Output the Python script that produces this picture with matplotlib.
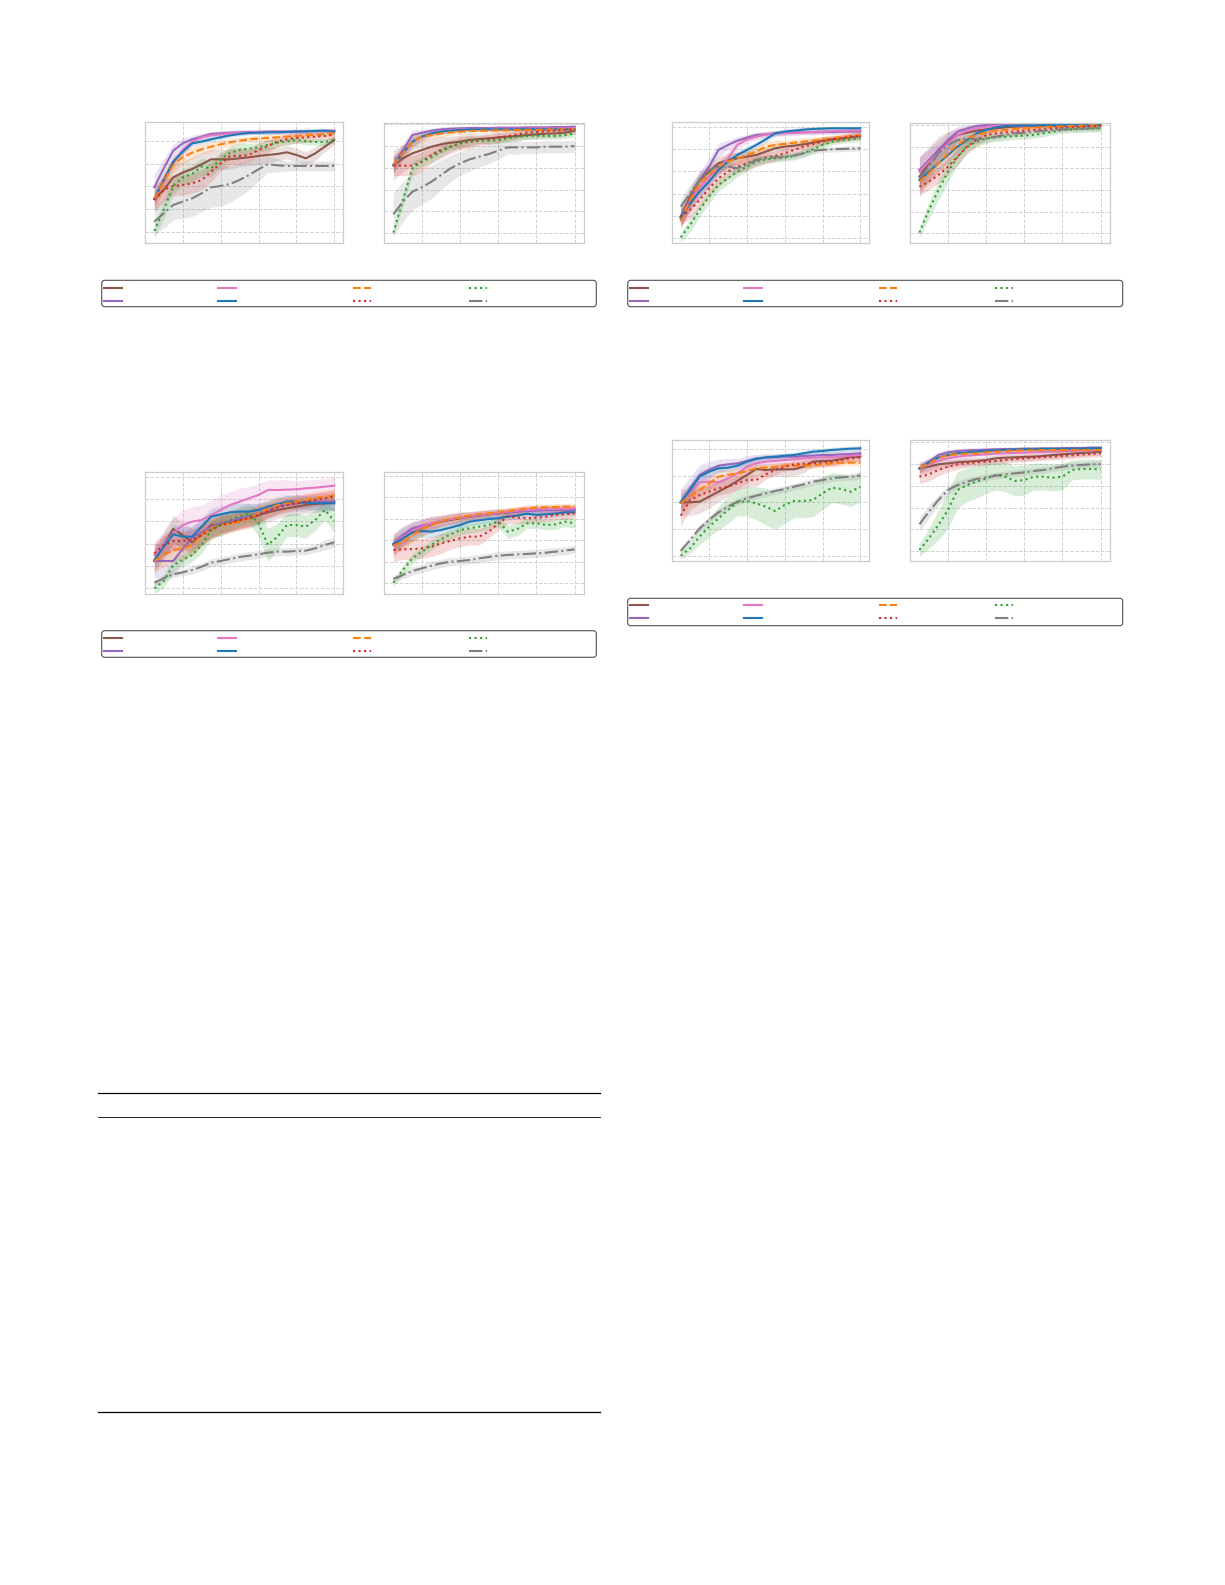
import matplotlib
matplotlib.use("Agg")
import matplotlib.pyplot as plt
from matplotlib.lines import Line2D
from matplotlib.patches import FancyBboxPatch

# ---------------- data ----------------
X = [5, 10, 15, 20, 25, 30, 35, 40, 45, 50, 55, 60, 65, 70, 75, 80, 85, 90, 95, 100]
XTICKS = [20, 40, 60, 80, 100]

COLORS = ["#8c564b", "#9467bd", "#e377c2", "#1f77b4", "#ff7f0e", "#d62728", "#2ca02c", "#7f7f7f"]
STYLES = ["-", "-", "-", "-", "--", ":", ":", "-."]

# ---- panel A, left ----
A1_BROWN = [13.3,16.0,19.8,21.2,22.3,23.7,25.2,25.2,25.2,25.5,25.8,26.2,26.5,26.8,27.3,26.5,25.5,27.0,29.0,31.0]
A1_PURPLE = [16.8,22.5,27.8,30.0,31.2,32.0,32.8,33.0,33.2,33.3,33.4,33.4,33.5,33.5,33.5,33.6,33.6,33.7,33.7,33.7]
A1_PINK = [13.3,18.5,24.0,28.0,30.5,31.8,32.4,32.7,33.0,33.2,33.3,33.4,33.4,33.5,33.5,33.5,33.6,33.6,33.7,33.8]
A1_BLUE = [13.3,19.0,24.5,27.5,30.0,30.5,31.2,31.8,32.4,32.8,33.1,33.2,33.3,33.3,33.4,33.5,33.6,33.7,33.8,33.5]
A1_ORANGE = [13.3,18.5,23.5,25.8,27.2,28.2,29.0,29.7,30.3,30.8,31.2,31.4,31.6,31.8,32.0,32.2,32.4,32.6,32.8,33.0]
A1_RED = [13.0,16.0,17.2,17.5,18.0,19.0,21.5,24.0,26.2,26.2,26.5,28.0,29.2,30.5,31.2,31.6,31.8,32.0,32.2,32.6]
A1_GREEN = [3.7,10.0,17.2,19.8,20.8,23.0,22.5,25.2,27.2,28.0,28.4,28.8,29.5,30.2,30.6,31.0,30.6,30.4,30.4,31.0]
A1_GRAY = [6.5,9.0,11.5,12.5,13.5,15.0,16.8,17.2,17.8,19.0,20.5,22.2,23.7,23.4,23.2,23.2,23.2,23.2,23.2,23.2]
A1_BROWN_SD = [4.0,4.0,4.0,3.5,3.5,3.5,3.0,3.0,3.0,2.5,2.5,2.5,2.5,2.0,2.0,2.0,2.0,2.0,1.5,1.5]
A1_PURPLE_SD = [4.0,3.0,2.0,1.5,1.2,1.0,0.8,0.8,0.7,0.7,0.6,0.6,0.6,0.6,0.6,0.6,0.6,0.6,0.6,0.6]
A1_PINK_SD = [3.0,2.5,2.0,1.5,1.2,1.0,0.8,0.8,0.8,0.7,0.7,0.7,0.7,0.7,0.7,0.7,0.7,0.7,0.7,0.7]
A1_BLUE_SD = [2.0,1.5,1.2,1.0,0.8,0.8,0.7,0.7,0.6,0.6,0.6,0.6,0.6,0.6,0.6,0.6,0.6,0.6,0.6,0.6]
A1_ORANGE_SD = [3.0,3.0,2.5,2.0,1.8,1.5,1.5,1.2,1.2,1.0,1.0,1.0,1.0,1.0,0.8,0.8,0.8,0.8,0.8,0.8]
A1_RED_SD = [3.0,3.0,3.0,3.0,3.0,3.0,3.0,2.5,2.5,2.5,2.0,2.0,2.0,1.5,1.5,1.5,1.5,1.2,1.2,1.2]
A1_GREEN_SD = [2.0,2.5,2.5,2.5,2.5,2.5,2.5,2.0,2.0,2.0,1.5,1.5,1.5,1.2,1.2,1.0,1.0,1.0,1.0,1.0]
A1_GRAY_SD = [4.0,4.5,4.5,5.0,5.5,5.5,6.0,6.0,5.5,5.0,4.5,3.5,2.5,2.0,1.5,1.5,1.5,1.5,1.5,1.5]
A1_YTICKS = [3.5, 10.3, 17.1, 23.9, 30.7]

# ---- panel A, right ----
A2_BROWN = [23.5,25.5,27.0,28.0,29.0,29.7,30.2,30.5,31.0,31.3,31.5,31.8,32.0,32.2,32.5,32.7,32.9,33.0,33.2,33.8]
A2_PURPLE = [23.5,28.0,32.5,33.2,33.8,34.2,34.4,34.5,34.6,34.6,34.6,34.7,34.7,34.7,34.8,34.8,34.8,34.9,34.9,35.0]
A2_PINK = [23.5,27.0,30.5,32.0,33.0,33.5,34.0,34.2,34.3,34.3,34.4,34.4,34.4,34.4,34.4,34.5,34.5,34.5,34.5,34.5]
A2_BLUE = [23.5,27.0,30.5,32.0,33.0,33.5,33.8,34.0,34.2,34.2,34.2,34.2,34.2,34.2,34.2,34.2,34.2,34.2,34.2,34.2]
A2_ORANGE = [23.5,27.0,30.5,32.0,32.5,33.0,33.3,33.5,33.7,33.8,33.8,33.9,33.9,34.0,34.0,34.0,34.1,34.1,34.2,34.2]
A2_RED = [23.3,23.3,23.3,24.5,26.5,28.0,29.0,30.0,30.5,30.8,31.2,31.7,32.2,32.7,33.2,33.4,33.6,33.8,34.0,34.2]
A2_GREEN = [3.2,13.0,22.5,24.5,25.8,27.5,29.0,30.0,30.8,31.0,30.8,31.0,31.5,32.0,32.2,32.3,32.2,32.2,32.5,33.0]
A2_GRAY = [8.7,12.5,15.5,16.8,18.5,20.5,22.5,24.0,25.2,26.0,26.8,27.8,28.8,28.8,28.8,28.8,29.0,29.0,29.0,29.2]
A2_BROWN_SD = [4.5,4.0,3.5,3.0,2.5,2.5,2.0,2.0,2.0,1.5,1.5,1.5,1.5,1.5,1.2,1.2,1.2,1.2,1.0,1.0]
A2_PURPLE_SD = [2.5,2.0,1.5,1.0,0.8,0.7,0.6,0.6,0.6,0.6,0.5,0.5,0.5,0.5,0.5,0.5,0.5,0.5,0.5,0.5]
A2_PINK_SD = [2.5,2.0,1.5,1.2,1.0,0.8,0.7,0.6,0.6,0.6,0.6,0.6,0.5,0.5,0.5,0.5,0.5,0.5,0.5,0.5]
A2_BLUE_SD = [2.0,1.8,1.5,1.0,0.8,0.7,0.6,0.6,0.6,0.6,0.5,0.5,0.5,0.5,0.5,0.5,0.5,0.5,0.5,0.5]
A2_ORANGE_SD = [2.5,2.0,1.8,1.5,1.2,1.0,0.8,0.8,0.7,0.7,0.7,0.7,0.6,0.6,0.6,0.6,0.6,0.6,0.6,0.6]
A2_RED_SD = [3.0,3.0,3.0,3.0,2.5,2.5,2.0,2.0,2.0,1.5,1.5,1.5,1.2,1.2,1.0,1.0,1.0,1.0,1.0,1.0]
A2_GREEN_SD = [1.0,2.0,2.0,1.5,1.5,1.5,1.5,1.2,1.2,1.0,1.0,1.0,1.0,1.0,1.0,1.0,1.0,1.0,1.0,1.0]
A2_GRAY_SD = [6.5,6.0,5.5,5.0,5.0,4.5,4.0,3.5,3.5,3.0,3.0,2.5,2.0,2.0,1.8,1.8,1.8,1.8,1.8,1.8]
A2_YTICKS = [3.0, 9.55, 16.1, 22.65, 29.2, 35.75]

# ---- panel B, left ----
B1_BROWN = [8.0,14.0,19.0,21.5,24.0,25.0,25.5,26.0,26.5,27.5,28.5,29.0,29.3,29.7,30.2,30.8,31.2,31.5,31.8,32.2]
B1_PURPLE = [8.0,13.0,19.0,23.0,28.0,29.5,30.8,31.7,32.5,32.7,33.0,33.1,33.2,33.3,33.3,33.4,33.4,33.5,33.5,33.5]
B1_PINK = [7.5,12.5,16.5,20.0,22.5,25.5,29.5,31.2,32.0,32.6,33.0,33.1,33.2,33.3,33.4,33.5,33.6,33.7,33.8,33.8]
B1_BLUE = [7.5,12.0,15.5,18.5,22.0,24.5,26.5,28.0,29.5,31.2,33.0,33.5,33.8,34.1,34.3,34.4,34.5,34.5,34.5,34.5]
B1_ORANGE = [6.5,13.0,18.0,20.5,23.0,24.5,25.5,26.5,27.5,29.0,29.5,29.8,30.2,30.5,30.8,31.2,31.5,31.8,32.2,32.5]
B1_RED = [8.0,10.0,13.0,16.5,19.5,21.5,23.0,24.0,25.0,25.7,26.2,27.0,28.0,29.0,29.8,30.5,31.2,31.5,32.0,32.2]
B1_GREEN = [1.8,5.5,10.0,14.0,17.5,19.5,21.5,23.0,24.5,25.2,25.5,25.8,26.2,27.0,28.2,29.5,30.5,31.0,31.2,31.5]
B1_GRAY = [11.0,15.0,19.0,22.0,23.0,23.0,22.5,23.5,25.0,25.5,25.8,26.0,26.3,27.0,27.8,28.0,28.2,28.3,28.4,28.5]
B1_BROWN_SD = [3.0,3.0,2.5,2.5,2.0,2.0,1.8,1.8,1.5,1.5,1.5,1.5,1.2,1.2,1.2,1.2,1.0,1.0,1.0,1.0]
B1_PURPLE_SD = [3.0,3.0,2.5,2.5,2.0,1.5,1.2,1.0,1.0,0.8,0.8,0.8,0.7,0.7,0.7,0.7,0.7,0.7,0.7,0.7]
B1_PINK_SD = [3.0,3.0,2.5,2.5,2.0,2.0,1.5,1.2,1.0,1.0,0.8,0.8,0.8,0.7,0.7,0.7,0.7,0.7,0.7,0.7]
B1_BLUE_SD = [2.0,2.0,2.0,1.8,1.5,1.5,1.2,1.2,1.0,1.0,0.8,0.8,0.7,0.7,0.6,0.6,0.6,0.6,0.6,0.6]
B1_ORANGE_SD = [2.5,2.5,2.5,2.0,2.0,2.0,1.8,1.8,1.5,1.5,1.5,1.2,1.2,1.2,1.0,1.0,1.0,1.0,1.0,1.0]
B1_RED_SD = [2.5,2.5,2.5,2.5,2.5,2.0,2.0,2.0,1.8,1.8,1.5,1.5,1.5,1.2,1.2,1.2,1.0,1.0,1.0,1.0]
B1_GREEN_SD = [1.5,2.0,2.0,2.0,2.0,1.8,1.5,1.5,1.5,1.2,1.2,1.2,1.2,1.2,1.2,1.0,1.0,1.0,1.0,1.0]
B1_GRAY_SD = [2.5,2.5,2.0,1.5,1.5,1.5,1.2,1.2,1.2,1.0,1.0,1.0,1.0,1.0,1.0,0.8,0.8,0.8,0.8,0.8]
B1_YTICKS = [1.7, 8.3, 14.9, 21.6, 28.2, 34.8]

# ---- panel B, right ----
B2_BROWN = [20.0,24.0,28.0,30.5,32.5,33.2,33.8,34.2,34.5,34.8,35.0,35.1,35.2,35.2,35.3,35.3,35.4,35.4,35.5,35.5]
B2_PURPLE = [22.0,25.0,28.0,31.0,33.5,34.5,35.2,35.5,35.6,35.6,35.7,35.7,35.7,35.7,35.7,35.7,35.7,35.7,35.7,35.7]
B2_PINK = [21.5,24.5,27.0,30.0,32.5,33.8,34.5,35.0,35.2,35.3,35.4,35.4,35.5,35.5,35.5,35.5,35.6,35.6,35.6,35.6]
B2_BLUE = [19.0,21.5,24.0,26.5,29.0,31.0,33.0,34.0,34.8,35.2,35.3,35.4,35.4,35.5,35.5,35.5,35.5,35.6,35.6,35.6]
B2_ORANGE = [18.5,21.0,24.0,27.0,29.5,31.5,32.5,33.3,33.8,34.0,34.3,34.5,34.7,34.9,35.0,35.1,35.2,35.3,35.4,35.5]
B2_RED = [17.0,18.5,20.5,23.0,26.0,29.0,31.0,32.5,33.0,33.3,33.5,33.8,34.0,34.2,34.5,34.7,34.8,35.0,35.1,35.2]
B2_GREEN = [3.2,10.0,16.0,21.5,26.0,29.0,30.5,31.5,31.8,32.0,32.2,32.3,32.5,33.0,33.5,34.0,34.2,34.3,34.4,34.5]
B2_GRAY = [19.5,23.0,27.0,29.5,31.0,31.5,31.2,31.5,32.0,32.5,33.0,33.2,33.5,33.8,34.0,34.2,34.3,34.4,34.5,34.5]
B2_BROWN_SD = [6.0,5.0,4.0,3.0,2.0,1.5,1.2,1.0,0.8,0.8,0.7,0.7,0.7,0.7,0.7,0.7,0.7,0.7,0.7,0.7]
B2_PURPLE_SD = [4.0,3.5,3.0,2.5,1.5,1.0,0.8,0.7,0.6,0.6,0.6,0.6,0.6,0.6,0.6,0.6,0.6,0.6,0.6,0.6]
B2_PINK_SD = [4.0,3.5,3.0,2.5,2.0,1.5,1.0,0.8,0.7,0.7,0.6,0.6,0.6,0.6,0.6,0.6,0.6,0.6,0.6,0.6]
B2_BLUE_SD = [3.0,3.0,2.5,2.5,2.0,1.5,1.2,1.0,0.8,0.7,0.6,0.6,0.6,0.6,0.6,0.6,0.6,0.6,0.6,0.6]
B2_ORANGE_SD = [3.0,3.0,2.5,2.5,2.0,1.5,1.2,1.0,0.8,0.7,0.7,0.7,0.6,0.6,0.6,0.6,0.6,0.6,0.6,0.6]
B2_RED_SD = [2.5,2.5,2.5,2.5,2.5,2.0,1.8,1.5,1.2,1.0,1.0,1.0,0.8,0.8,0.8,0.8,0.8,0.8,0.8,0.8]
B2_GREEN_SD = [1.5,2.5,3.0,3.0,2.5,2.0,1.5,1.5,1.2,1.2,1.0,1.0,1.0,1.0,1.0,1.0,1.0,1.0,1.0,1.0]
B2_GRAY_SD = [2.0,2.0,1.8,1.5,1.5,1.5,1.2,1.2,1.0,1.0,1.0,1.0,0.8,0.8,0.8,0.8,0.8,0.8,0.8,0.8]
B2_YTICKS = [3.0, 9.5, 16.0, 22.5, 29.0, 35.5]

# ---- panel C, left ----
C1_BROWN = [9.9,14.7,19.5,17.7,15.5,17.7,20.7,20.9,21.7,22.2,22.7,23.7,24.5,25.2,25.7,26.2,26.7,27.0,27.2,27.7]
C1_PURPLE = [9.9,9.9,9.9,13.5,16.9,18.5,20.2,21.2,21.9,22.7,23.4,24.2,25.2,26.2,26.9,27.2,27.5,27.7,27.7,27.7]
C1_PINK = [11.7,14.7,18.2,20.7,21.7,22.2,23.7,25.2,26.7,27.7,28.7,29.7,31.2,31.2,31.3,31.4,31.7,31.9,32.2,32.5]
C1_BLUE = [10.2,14.2,17.9,17.2,17.2,20.2,23.2,23.9,24.5,24.7,24.7,25.2,26.2,26.9,27.7,27.7,27.4,27.2,27.2,27.2]
C1_ORANGE = [9.9,11.7,13.2,13.7,14.7,17.7,19.7,20.7,21.2,21.7,22.7,24.2,25.5,26.7,27.2,27.7,28.2,28.7,29.2,29.5]
C1_RED = [12.2,14.7,15.9,15.9,16.2,17.7,19.2,20.7,21.2,22.2,22.7,23.7,24.9,25.9,26.7,27.2,27.7,28.2,28.7,29.2]
C1_GREEN = [1.7,3.9,8.7,10.2,11.7,14.7,19.2,20.7,22.2,23.2,24.2,21.2,14.7,17.2,20.7,20.7,20.2,22.2,25.2,21.9]
C1_GRAY = [3.4,4.7,5.9,6.5,7.2,8.2,9.4,9.9,10.5,11.1,11.5,11.9,12.4,12.7,12.7,12.9,13.0,13.7,14.7,15.5]
C1_BROWN_SD = [4.0,4.0,4.0,4.0,4.0,3.5,3.5,3.5,3.0,3.0,3.0,3.0,3.0,2.5,2.5,2.5,2.5,2.5,2.5,2.5]
C1_PURPLE_SD = [5.0,5.0,4.5,4.0,4.0,3.5,3.5,3.0,3.0,3.0,3.0,3.0,2.5,2.5,2.5,2.5,2.5,2.5,2.5,2.5]
C1_PINK_SD = [4.0,4.0,4.5,4.5,4.5,4.5,4.5,4.5,4.0,4.0,3.5,3.5,3.0,3.0,3.0,2.5,2.5,2.5,2.5,2.5]
C1_BLUE_SD = [3.0,3.0,3.0,3.0,3.0,2.5,2.5,2.5,2.5,2.5,2.5,2.0,2.0,2.0,2.0,2.0,2.0,2.0,2.0,2.0]
C1_ORANGE_SD = [3.5,3.5,3.5,3.5,3.0,3.0,3.0,3.0,3.0,2.5,2.5,2.5,2.5,2.5,2.0,2.0,2.0,2.0,2.0,2.0]
C1_RED_SD = [3.0,3.0,3.0,3.0,3.0,3.0,2.5,2.5,2.5,2.5,2.5,2.5,2.0,2.0,2.0,2.0,2.0,2.0,2.0,2.0]
C1_GREEN_SD = [1.5,2.0,2.0,2.0,2.0,2.5,3.0,3.0,3.0,3.0,3.0,4.0,5.0,4.0,3.5,3.5,3.5,3.0,3.0,3.5]
C1_GRAY_SD = [1.0,1.0,1.0,1.0,1.2,1.2,1.2,1.2,1.2,1.2,1.2,1.2,1.2,1.2,1.2,1.2,1.2,1.2,1.5,1.5]
C1_YTICKS = [1.7, 8.4, 15.1, 21.8, 28.5, 35.2]

# ---- panel C, right ----
C2_BROWN = [14.7,17.2,18.7,19.9,20.9,21.7,22.2,22.7,23.2,23.5,23.9,24.2,24.5,24.9,25.2,25.4,25.5,25.5,25.5,25.5]
C2_PURPLE = [15.2,17.7,19.7,20.5,21.2,21.9,22.4,22.9,23.2,23.5,23.9,24.2,24.5,24.7,24.9,25.0,25.1,25.2,25.2,25.2]
C2_PINK = [14.9,17.2,18.9,20.2,21.2,21.9,22.5,22.9,23.4,23.7,24.0,24.4,24.7,25.0,25.2,25.4,25.5,25.5,25.5,25.7]
C2_BLUE = [14.9,16.7,18.5,18.9,18.7,19.2,19.9,20.7,21.7,22.1,22.5,22.7,23.2,23.5,24.1,23.7,23.9,24.1,24.5,24.5]
C2_ORANGE = [14.5,15.7,17.7,19.5,20.7,21.9,22.5,23.0,23.5,23.9,24.2,24.5,24.9,25.3,25.7,25.9,26.0,26.1,26.2,26.2]
C2_RED = [13.2,13.4,13.5,13.7,14.2,15.2,15.9,16.7,17.2,17.2,18.7,21.2,23.2,22.9,22.7,22.9,23.2,23.7,23.9,24.2]
C2_GREEN = [3.4,7.2,10.7,12.7,14.7,16.5,17.9,19.2,19.7,20.2,20.7,21.7,18.7,19.5,21.2,21.2,20.7,20.9,21.7,21.2]
C2_GRAY = [4.5,5.7,6.9,7.7,8.5,9.2,9.7,9.9,10.2,10.7,11.1,11.5,11.7,11.9,12.0,12.2,12.4,12.7,13.0,13.4]
C2_BROWN_SD = [3.5,3.0,3.0,2.5,2.5,2.0,2.0,2.0,1.5,1.5,1.5,1.5,1.2,1.2,1.2,1.2,1.2,1.2,1.2,1.2]
C2_PURPLE_SD = [2.5,2.5,2.0,2.0,1.8,1.5,1.5,1.5,1.2,1.2,1.2,1.0,1.0,1.0,1.0,1.0,1.0,1.0,1.0,1.0]
C2_PINK_SD = [3.0,2.5,2.5,2.0,2.0,1.5,1.5,1.5,1.2,1.2,1.2,1.0,1.0,1.0,1.0,1.0,1.0,1.0,1.0,1.0]
C2_BLUE_SD = [2.0,2.0,2.0,1.8,1.8,1.5,1.5,1.5,1.2,1.2,1.2,1.0,1.0,1.0,1.0,1.0,1.0,1.0,1.0,1.0]
C2_ORANGE_SD = [2.5,2.5,2.0,2.0,1.8,1.5,1.5,1.5,1.2,1.2,1.0,1.0,1.0,1.0,1.0,1.0,1.0,1.0,1.0,1.0]
C2_RED_SD = [3.5,3.0,3.0,3.0,3.0,3.0,2.5,2.5,2.5,2.5,2.0,2.0,2.0,1.8,1.5,1.5,1.5,1.5,1.5,1.5]
C2_GREEN_SD = [1.0,1.5,1.5,1.5,1.5,1.5,1.5,1.5,1.5,1.5,1.5,1.5,2.0,2.0,1.5,1.5,1.5,1.5,1.5,1.5]
C2_GRAY_SD = [1.0,1.0,1.2,1.2,1.2,1.2,1.2,1.2,1.2,1.2,1.2,1.2,1.2,1.2,1.2,1.2,1.2,1.2,1.2,1.2]
C2_YTICKS = [3.2, 9.7, 16.1, 22.6, 29.0, 35.5]

# ---- panel D, left ----
D1_BROWN = [17.6,17.6,17.8,19.3,20.8,22.3,24.0,25.8,27.6,27.3,27.5,27.5,27.5,28.3,29.8,30.0,30.1,30.6,31.2,31.3]
D1_PURPLE = [17.6,21.8,25.8,27.3,28.6,29.0,29.3,30.0,30.8,31.0,31.1,31.3,31.3,31.5,31.6,31.8,31.8,32.0,32.1,32.3]
D1_PINK = [17.6,20.8,23.6,23.8,23.6,24.8,26.3,28.3,29.3,29.8,30.0,30.3,30.5,30.8,31.0,31.1,31.2,31.4,31.6,31.8]
D1_BLUE = [17.6,21.3,25.3,26.8,27.8,28.0,28.6,29.8,30.6,31.1,31.3,31.6,31.8,32.3,32.8,33.0,33.3,33.5,33.7,33.8]
D1_ORANGE = [17.3,19.3,21.3,23.3,25.3,25.8,26.3,27.0,27.8,28.0,28.3,28.6,28.6,28.6,28.8,29.0,29.3,29.5,29.5,29.5]
D1_RED = [13.6,18.3,19.8,20.8,21.8,22.3,23.3,24.3,24.3,26.0,27.3,28.3,29.0,29.2,29.3,29.6,29.8,30.3,30.8,31.0]
D1_GREEN = [1.6,3.8,7.3,10.3,12.8,15.3,17.6,18.0,17.3,16.3,15.0,16.8,18.0,18.0,18.3,20.3,22.0,21.6,20.8,22.3]
D1_GRAY = [3.0,6.3,9.8,12.3,14.6,16.3,17.8,18.8,19.6,20.3,21.0,21.6,22.3,23.0,23.8,24.3,24.8,25.1,25.3,25.6]
D1_BROWN_SD = [4.0,4.0,3.5,3.5,3.0,3.0,2.5,2.5,2.0,2.0,2.0,2.0,2.0,1.8,1.5,1.5,1.5,1.2,1.2,1.2]
D1_PURPLE_SD = [4.0,3.5,3.0,2.5,2.0,1.8,1.5,1.5,1.2,1.2,1.0,1.0,1.0,1.0,1.0,1.0,1.0,1.0,1.0,1.0]
D1_PINK_SD = [3.0,2.5,2.5,2.0,2.0,2.0,1.8,1.5,1.2,1.2,1.0,1.0,1.0,1.0,1.0,1.0,1.0,1.0,1.0,1.0]
D1_BLUE_SD = [2.0,2.0,1.8,1.5,1.2,1.2,1.0,1.0,0.8,0.8,0.8,0.8,0.8,0.8,0.8,0.8,0.8,0.8,0.8,0.8]
D1_ORANGE_SD = [2.5,2.5,2.0,2.0,1.8,1.5,1.5,1.2,1.2,1.0,1.0,1.0,1.0,1.0,1.0,1.0,1.0,1.0,1.0,1.0]
D1_RED_SD = [3.0,3.0,2.5,2.5,2.0,2.0,2.0,2.0,1.8,1.5,1.5,1.2,1.2,1.2,1.2,1.2,1.2,1.2,1.2,1.2]
D1_GREEN_SD = [1.0,1.5,2.5,3.0,3.5,4.0,4.0,4.5,5.0,5.5,5.5,5.5,5.0,5.0,5.0,5.0,4.5,4.5,4.5,4.5]
D1_GRAY_SD = [1.0,1.0,1.0,1.0,1.0,1.0,1.0,1.0,1.0,1.0,1.0,1.0,1.0,1.0,1.0,1.0,1.0,1.0,1.0,1.0]
D1_YTICKS = [1.6, 9.6, 17.6, 25.6, 33.6]

# ---- panel D, right ----
D2_BROWN = [27.8,28.3,29.0,29.3,29.6,29.8,30.0,30.3,30.8,31.0,31.1,31.2,31.3,31.5,31.8,32.0,32.2,32.4,32.6,32.8]
D2_PURPLE = [27.8,29.8,31.8,32.6,33.0,33.2,33.3,33.4,33.5,33.6,33.6,33.7,33.7,33.8,33.8,33.8,33.9,33.9,34.0,34.0]
D2_PINK = [27.8,29.0,30.0,30.8,31.3,31.6,31.8,32.0,32.2,32.3,32.4,32.5,32.6,32.7,32.8,32.9,33.0,33.1,33.2,33.3]
D2_BLUE = [27.8,29.6,31.0,31.8,32.3,32.6,32.8,33.0,33.2,33.3,33.4,33.5,33.5,33.6,33.6,33.7,33.7,33.7,33.8,33.8]
D2_ORANGE = [28.0,29.3,30.8,31.8,32.0,32.2,32.3,32.6,32.8,33.0,33.1,33.2,33.2,33.3,33.3,33.3,33.3,33.3,33.3,33.3]
D2_RED = [25.3,26.0,27.3,28.3,29.0,29.3,29.6,29.8,30.0,30.3,30.6,30.8,31.0,31.2,31.3,31.5,31.7,31.9,32.1,32.3]
D2_GREEN = [3.3,6.8,10.8,15.3,21.3,22.8,23.8,24.8,25.8,25.3,24.0,24.3,25.3,25.3,25.0,25.3,27.3,27.6,27.6,27.5]
D2_GRAY = [11.0,14.8,18.3,21.3,22.8,23.8,24.6,25.1,25.6,26.0,26.3,26.6,27.0,27.3,27.8,28.3,28.6,28.8,29.0,29.1]
D2_BROWN_SD = [1.5,1.5,1.5,1.2,1.2,1.2,1.0,1.0,1.0,1.0,1.0,1.0,1.0,1.0,1.0,1.0,1.0,1.0,1.0,1.0]
D2_PURPLE_SD = [1.5,1.2,1.0,0.8,0.7,0.7,0.6,0.6,0.6,0.6,0.6,0.6,0.6,0.6,0.6,0.6,0.6,0.6,0.6,0.6]
D2_PINK_SD = [2.0,1.8,1.5,1.2,1.0,1.0,0.8,0.8,0.8,0.8,0.8,0.8,0.8,0.8,0.8,0.8,0.8,0.8,0.8,0.8]
D2_BLUE_SD = [1.2,1.0,0.8,0.7,0.7,0.6,0.6,0.6,0.6,0.6,0.6,0.6,0.6,0.6,0.6,0.6,0.6,0.6,0.6,0.6]
D2_ORANGE_SD = [1.5,1.2,1.0,0.8,0.8,0.7,0.7,0.7,0.7,0.7,0.7,0.7,0.7,0.7,0.7,0.7,0.7,0.7,0.7,0.7]
D2_RED_SD = [2.0,2.0,1.8,1.5,1.5,1.2,1.2,1.0,1.0,1.0,1.0,1.0,1.0,1.0,1.0,1.0,1.0,1.0,1.0,1.0]
D2_GREEN_SD = [2.0,3.0,4.5,5.5,5.5,5.0,5.0,4.5,4.5,4.5,4.5,4.5,4.0,4.0,4.0,4.0,3.0,3.0,3.0,3.0]
D2_GRAY_SD = [2.0,2.0,1.5,1.5,1.2,1.2,1.0,1.0,1.0,1.0,1.0,1.0,1.0,1.0,1.0,1.0,1.0,1.0,1.0,1.0]
D2_YTICKS = [3.0, 9.5, 16.0, 22.6, 29.1, 35.6]

# ---------------- layout ----------------
W, H = 1225, 1585
fig = plt.figure(figsize=(W / 100, H / 100), dpi=100)
fig.patch.set_facecolor("white")

def px_axes(x0, y0, x1, y1):
    return fig.add_axes([x0 / W, 1 - y1 / H, (x1 - x0) / W, (y1 - y0) / H])

subplots = [
    ((145.3, 122.3, 343.3, 243.3), 36.3, A1_YTICKS,
     [A1_BROWN, A1_PURPLE, A1_PINK, A1_BLUE, A1_ORANGE, A1_RED, A1_GREEN, A1_GRAY],
     [A1_BROWN_SD, A1_PURPLE_SD, A1_PINK_SD, A1_BLUE_SD, A1_ORANGE_SD, A1_RED_SD, A1_GREEN_SD, A1_GRAY_SD]),
    ((384.3, 122.7, 583.7, 243.3), 36.2, A2_YTICKS,
     [A2_BROWN, A2_PURPLE, A2_PINK, A2_BLUE, A2_ORANGE, A2_RED, A2_GREEN, A2_GRAY],
     [A2_BROWN_SD, A2_PURPLE_SD, A2_PINK_SD, A2_BLUE_SD, A2_ORANGE_SD, A2_RED_SD, A2_GREEN_SD, A2_GRAY_SD]),
    ((671.7, 122.3, 869.3, 243.3), 36.3, B1_YTICKS,
     [B1_BROWN, B1_PURPLE, B1_PINK, B1_BLUE, B1_ORANGE, B1_RED, B1_GREEN, B1_GRAY],
     [B1_BROWN_SD, B1_PURPLE_SD, B1_PINK_SD, B1_BLUE_SD, B1_ORANGE_SD, B1_RED_SD, B1_GREEN_SD, B1_GRAY_SD]),
    ((910.3, 122.7, 1109.7, 243.3), 36.2, B2_YTICKS,
     [B2_BROWN, B2_PURPLE, B2_PINK, B2_BLUE, B2_ORANGE, B2_RED, B2_GREEN, B2_GRAY],
     [B2_BROWN_SD, B2_PURPLE_SD, B2_PINK_SD, B2_BLUE_SD, B2_ORANGE_SD, B2_RED_SD, B2_GREEN_SD, B2_GRAY_SD]),
    ((145.3, 472.3, 343.3, 594.0), 36.5, C1_YTICKS,
     [C1_BROWN, C1_PURPLE, C1_PINK, C1_BLUE, C1_ORANGE, C1_RED, C1_GREEN, C1_GRAY],
     [C1_BROWN_SD, C1_PURPLE_SD, C1_PINK_SD, C1_BLUE_SD, C1_ORANGE_SD, C1_RED_SD, C1_GREEN_SD, C1_GRAY_SD]),
    ((384.3, 472.3, 583.7, 594.0), 36.5, C2_YTICKS,
     [C2_BROWN, C2_PURPLE, C2_PINK, C2_BLUE, C2_ORANGE, C2_RED, C2_GREEN, C2_GRAY],
     [C2_BROWN_SD, C2_PURPLE_SD, C2_PINK_SD, C2_BLUE_SD, C2_ORANGE_SD, C2_RED_SD, C2_GREEN_SD, C2_GRAY_SD]),
    ((671.7, 440.0, 869.3, 561.0), 36.3, D1_YTICKS,
     [D1_BROWN, D1_PURPLE, D1_PINK, D1_BLUE, D1_ORANGE, D1_RED, D1_GREEN, D1_GRAY],
     [D1_BROWN_SD, D1_PURPLE_SD, D1_PINK_SD, D1_BLUE_SD, D1_ORANGE_SD, D1_RED_SD, D1_GREEN_SD, D1_GRAY_SD]),
    ((910.3, 440.0, 1109.7, 561.0), 36.3, D2_YTICKS,
     [D2_BROWN, D2_PURPLE, D2_PINK, D2_BLUE, D2_ORANGE, D2_RED, D2_GREEN, D2_GRAY],
     [D2_BROWN_SD, D2_PURPLE_SD, D2_PINK_SD, D2_BLUE_SD, D2_ORANGE_SD, D2_RED_SD, D2_GREEN_SD, D2_GRAY_SD]),
]

panel_lines = []
for rect, ytop, yticks, means, sds in subplots:
    ax = px_axes(*rect)
    lines = []
    for m, s, c in zip(means, sds, COLORS):
        lo = [a - b for a, b in zip(m, s)]
        hi = [a + b for a, b in zip(m, s)]
        ax.fill_between(X, lo, hi, color=c, alpha=0.18, linewidth=0)
    for m, c, ls in zip(means, COLORS, STYLES):
        ln, = ax.plot(X, m, color=c, linestyle=ls, linewidth=1.5)
        lines.append(ln)
    ax.set_xlim(0.25, 104.75)
    ax.set_ylim(0, ytop)
    ax.set_xticks(XTICKS)
    ax.set_yticks(yticks)
    ax.tick_params(length=0, labelbottom=False, labelleft=False)
    ax.grid(True, linestyle="--", color="#d2d2d2", linewidth=0.7)
    ax.set_axisbelow(True)
    for sp in ax.spines.values():
        sp.set_color("#cccccc")
        sp.set_linewidth(0.9)
    panel_lines.append(lines)

# legends: frame + four columns of handles (labels removed in the reference)
FS = 5.76
fpx = FS * 100 / 72
legend_specs = [
    # frame (x0, y0, x1, y1), column handle x positions, first row centre
    ((101.7, 280.3, 596.3, 306.7), (104.0, 218.3, 353.3, 469.3), 286.7, panel_lines[0]),
    ((627.7, 280.3, 1122.7, 306.7), (630.0, 744.3, 879.0, 995.0), 286.7, panel_lines[2]),
    ((101.7, 630.7, 596.3, 657.3), (104.0, 218.3, 353.3, 469.3), 636.7, panel_lines[4]),
    ((627.7, 598.3, 1122.7, 625.7), (630.0, 744.3, 879.0, 995.0), 604.3, panel_lines[6]),
]
for frame, cols, row1, lines in legend_specs:
    x0, y0, x1, y1 = frame
    box = FancyBboxPatch((x0 / 100, (H - y1) / 100), (x1 - x0) / 100, (y1 - y0) / 100,
                         boxstyle="round,pad=0,rounding_size=0.03",
                         transform=fig.dpi_scale_trans, facecolor="white",
                         edgecolor="#505050", linewidth=0.8, zorder=1)
    fig.add_artist(box)
    for k, cx in enumerate(cols):
        hs = [lines[2 * k], lines[2 * k + 1]]
        top = row1 - 0.41 * fpx
        leg = fig.legend(hs, ["", ""], loc="upper left",
                         bbox_to_anchor=(cx / W, 1 - top / H),
                         borderaxespad=0, borderpad=0, frameon=False,
                         fontsize=FS, handlelength=2.25, handletextpad=0.3,
                         labelspacing=0.5)
        leg.set_zorder(3)

# table rules (text removed in the reference)
for y, lw in [(1093.3, 0.9), (1116.7, 0.6), (1412.0, 0.9)]:
    fig.add_artist(Line2D([97.7 / W, 600.0 / W], [1 - y / H, 1 - y / H],
                          transform=fig.transFigure, color="black", linewidth=lw))

fig.savefig("out.png", dpi=100, facecolor="white")
